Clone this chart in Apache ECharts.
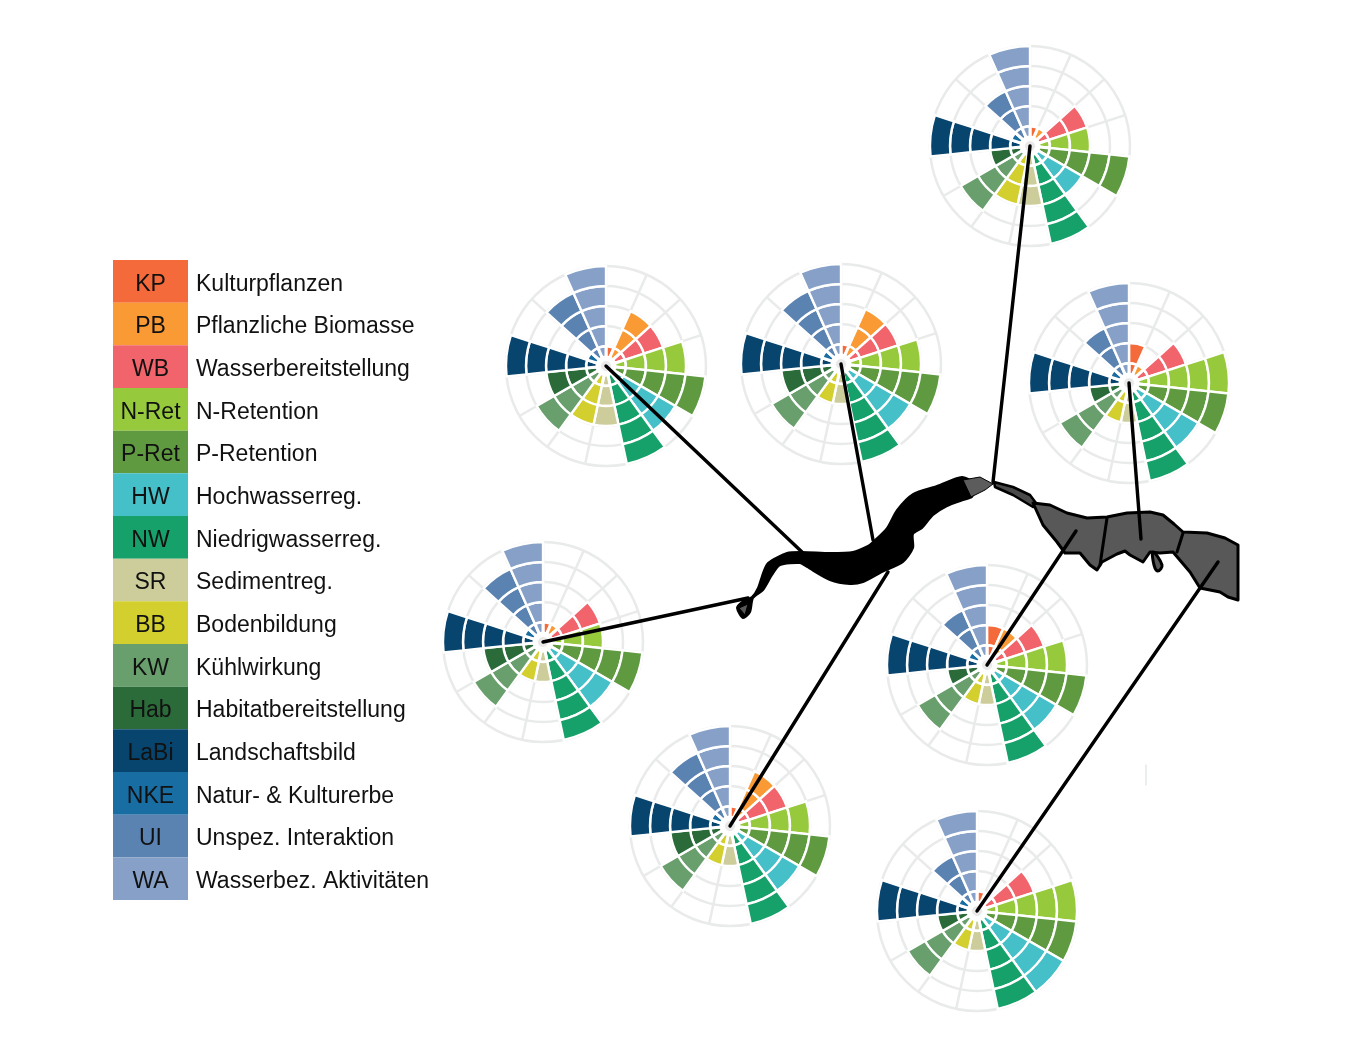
<!DOCTYPE html>
<html><head><meta charset="utf-8">
<style>html,body{margin:0;padding:0;background:#fff}#c{width:1362px;height:1042px}</style>
<script src="https://cdn.jsdelivr.net/npm/echarts@6/dist/echarts.min.js"></script>
</head><body><div id="c"></div>
<script>
// Categories
const codes = ['KP','PB','WB','N-Ret','P-Ret','HW','NW','SR','BB','KW','Hab','LaBi','NKE','UI','WA'];
const names = ['Kulturpflanzen','Pflanzliche Biomasse','Wasserbereitstellung','N-Retention','P-Retention','Hochwasserreg.','Niedrigwasserreg.','Sedimentreg.','Bodenbildung','Kühlwirkung','Habitatbereitstellung','Landschaftsbild','Natur- & Kulturerbe','Unspez. Interaktion','Wasserbez. Aktivitäten'];
const colors = ['#f46a3a','#f99a35','#f2646b','#97c93d','#5f9a41','#45bfc8','#16a06a','#cdcd9b','#d2cf2e','#689f6c','#2b6b39','#07446e','#186da3','#5a83b2','#86a0c8'];
// Levels (0-5) per site, in category order
const siteTop       = [1,1,3,3,5,3,5,3,3,4,2,5,1,3,5];
const siteUpperLeft = [1,3,3,4,5,4,5,3,3,4,3,5,1,4,5];
const siteUpperMid  = [1,3,3,4,5,4,5,2,2,4,3,5,1,4,5];
const siteUpperRight= [2,1,3,5,5,4,5,2,2,4,2,5,1,3,5];
const siteLeft      = [1,1,3,3,5,4,5,2,2,4,3,5,1,4,5];
const siteMidRight  = [2,2,3,4,5,4,5,2,2,4,2,5,1,3,5];
const siteLowerMid  = [1,3,3,4,5,4,5,2,2,4,3,5,1,4,5];
const siteLowerRight= [1,0,3,5,5,5,5,2,2,4,2,5,1,3,5];
// Layout of each site: [values, centre x, centre y, river anchor x, river anchor y]
const sites = [
  [siteTop,1030,146,993,482],
  [siteUpperLeft,606,366,802,552],
  [siteUpperMid,841,364,873,540],
  [siteUpperRight,1129,383,1141,539],
  [siteLeft,543,642,748,598],
  [siteMidRight,987,665,1076,531],
  [siteLowerMid,730,826,888,572],
  [siteLowerRight,977,911,1218,562]
];
// River outline (page pixels)
const riverBlack = [[743,618],[737,608],[742,602],[752,597],[758,588],[763,573],[768,563],[787,553],[802,552],[830,553],[853,552],[868,546],[873,542],[887,528],[897,510],[913,494],[937,486],[962,477],[975,484],[972,497],[963,500],[947,506],[933,515],[922,528],[913,534],[913,548],[903,562],[880,573],[863,582],[850,584],[830,580],[807,567],[800,563],[780,565],[772,575],[763,590],[753,598],[750,612]];
const riverGreyA = [[963,480],[980,477],[993,484],[985,490],[971,497]];
const riverGreyB = [[994,482],[1013,487],[1030,495],[1036,503],[1033,507],[1013,495],[995,487]];
const riverGreyC = [[1033,503],[1050,505],[1067,513],[1087,518],[1107,517],[1127,513],[1150,512],[1163,515],[1174,524],[1183,532],[1207,533],[1225,538],[1238,545],[1238,600],[1228,597],[1220,592],[1200,588],[1190,572],[1173,552],[1160,553],[1150,552],[1143,562],[1130,555],[1125,551],[1117,554],[1102,562],[1097,570],[1090,565],[1080,553],[1065,553],[1057,542],[1043,525]];
const riverBlob = [[1153,552],[1162,565],[1158,571],[1154,565]];
const riverTail = [[739,608],[748,604],[745,615]];
const riverCuts = [[[1107,518],[1100,565]],[[1183,533],[1177,552]]];

const DISC = 0.25, GAP = 0.2, RINGS = 5;
const polar=[], angleAxis=[], radiusAxis=[], series=[];
const gridGrey='#e9eaea';
sites.forEach((s,i)=>{
  polar.push({center:[s[1],s[2]],radius:[0,100]});
  angleAxis.push({polarIndex:i,type:'category',data:codes,startAngle:90,clockwise:true,z:1,
    axisLine:{show:false},axisTick:{show:false},axisLabel:{show:false},
    splitLine:{show:true,lineStyle:{color:gridGrey,width:2.5}}});
  radiusAxis.push({polarIndex:i,type:'value',min:0,max:RINGS,interval:1,z:1,
    axisLine:{show:false},axisTick:{show:false},axisLabel:{show:false},
    splitLine:{show:true,lineStyle:{color:['#fff','#f4f5f5',gridGrey,gridGrey,gridGrey,gridGrey],width:2.5}}});
  series.push({type:'bar',coordinateSystem:'polar',polarIndex:i,stack:'s'+i,barCategoryGap:'0%',z:3,silent:true,
    data:codes.map(()=>DISC),itemStyle:{color:'#e9e9e9',borderWidth:0}});
  series.push({type:'bar',coordinateSystem:'polar',polarIndex:i,stack:'s'+i,barCategoryGap:'0%',z:3,silent:true,
    data:codes.map(()=>GAP),itemStyle:{color:'#fff',borderWidth:0}});
  for(let k=1;k<=RINGS;k++){
    series.push({type:'bar',coordinateSystem:'polar',polarIndex:i,stack:'s'+i,barCategoryGap:'0%',z:3,silent:true,
      data:s[0].map((v,j)=>({value:v>=k?(k===1?1-DISC-GAP:1):0,itemStyle:{color:colors[j],opacity:v>=k?1:0}})),
      itemStyle:{borderColor:'#fff',borderWidth:k===1?3:2.4}});
  }
});
// Page-wide grid for river and connectors
const pageGrid={left:0,top:0,width:1362,height:1042,show:false};
const legendGrid={left:113,top:260,width:75,height:640,show:false};
const namesGrid={left:113,top:263,width:75,height:640,show:false};
function poly(dataset,fill,stroke,w,z,smooth){
  return {type:'custom',xAxisIndex:0,yAxisIndex:0,coordinateSystem:'cartesian2d',z:z,silent:true,clip:false,
    data:[0],renderItem:(p,api)=>({type:'polygon',shape:{points:dataset.map(q=>api.coord(q)),smooth:smooth||0},
      style:{fill:fill,stroke:stroke,lineWidth:w,lineJoin:'round'}})};
}
function segs(list,color,w,z){
  return {type:'custom',xAxisIndex:0,yAxisIndex:0,coordinateSystem:'cartesian2d',z:z,silent:true,clip:false,
    data:list.map((_,i)=>i),renderItem:(p,api)=>{
      const l=list[p.dataIndex],a=api.coord(l[0]),b=api.coord(l[1]);
      return {type:'line',shape:{x1:a[0],y1:a[1],x2:b[0],y2:b[1]},style:{stroke:color,lineWidth:w,lineCap:'round'}};
    }};
}
series.push(poly(riverBlack,'#000','#000',2,1,0.25));
series.push(poly(riverGreyA,'#5c5c5c','#000',1,2));
series.push(poly(riverGreyB,'#4a4a4a','#000',2.5,1));
series.push(poly(riverGreyC,'#585858','#000',3,1));
series.push(poly(riverBlob,'#585858','#000',3,1,0.4));
series.push(poly(riverTail,'#585858','#000',1,2));
series.push(segs(riverCuts,'#000',3,2));
series.push(segs(sites.map(s=>[[s[1],s[2]],[s[3],s[4]]]),'#000',3.4,6));
series.push(segs([[[1146,765],[1146,785]]],'#e4e8ea',1.5,1));
// Legend as a one-column bar chart
series.push({type:'bar',xAxisIndex:1,yAxisIndex:1,barWidth:'100%',silent:true,
  data:colors.map(c=>({value:1,itemStyle:{color:c}})),
  label:{show:true,position:'inside',offset:[0,3],formatter:p=>p.name,color:'#111',fontFamily:'Liberation Sans',fontSize:23}});

const option={
  animation:false,backgroundColor:'#fff',
  polar,angleAxis,radiusAxis,
  grid:[pageGrid,legendGrid,namesGrid],
  xAxis:[
    {gridIndex:0,type:'value',min:0,max:1362,show:false},
    {gridIndex:1,type:'value',min:0,max:1,show:false},
    {gridIndex:2,type:'value',min:0,max:1,show:false}
  ],
  yAxis:[
    {gridIndex:0,type:'value',min:0,max:1042,inverse:true,show:false},
    {gridIndex:1,type:'category',inverse:true,data:codes,show:false},
    {gridIndex:2,type:'category',inverse:true,data:names,position:'right',
      axisLine:{show:false},axisTick:{show:false},
      axisLabel:{interval:0,margin:8,align:'left',color:'#111',fontFamily:'Liberation Sans',fontSize:23}}
  ],
  series
};
echarts.init(document.getElementById('c'),null,{renderer:'canvas'}).setOption(option);
</script></body></html>
